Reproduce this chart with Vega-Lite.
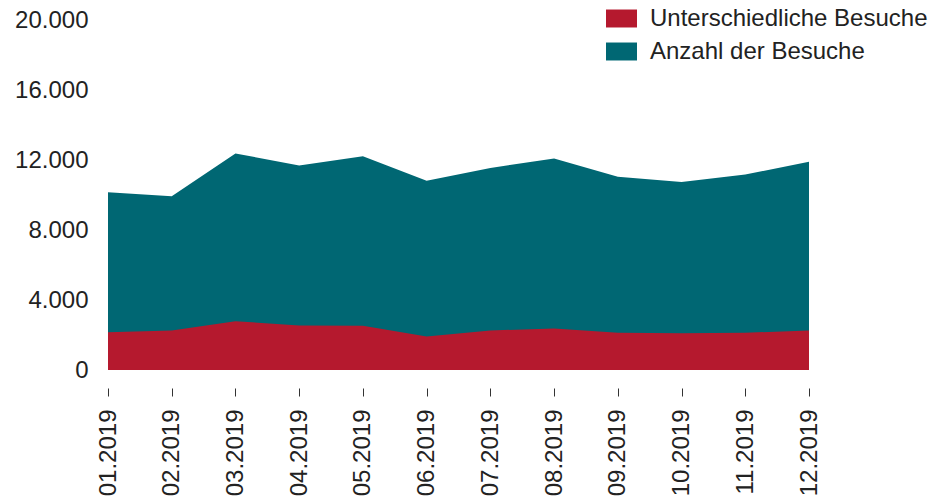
{
  "$schema": "https://vega.github.io/schema/vega-lite/v6.json",
  "width": 701,
  "height": 350,
  "autosize": {"type": "none"},
  "padding": {"left": 108, "top": 20, "right": 141, "bottom": 129},
  "background": "white",
  "config": {
    "view": {"stroke": null},
    "locale": {"number": {"decimal": ",", "thousands": ".", "grouping": [3], "currency": ["", " €"]}},
    "font": "Liberation Sans"
  },
  "data": {
    "values": [
      {"monat": "01.2019", "anzahl": 10160, "unterschiedlich": 2160},
      {"monat": "02.2019", "anzahl": 9930, "unterschiedlich": 2260},
      {"monat": "03.2019", "anzahl": 12370, "unterschiedlich": 2790},
      {"monat": "04.2019", "anzahl": 11690, "unterschiedlich": 2540},
      {"monat": "05.2019", "anzahl": 12220, "unterschiedlich": 2530},
      {"monat": "06.2019", "anzahl": 10810, "unterschiedlich": 1910},
      {"monat": "07.2019", "anzahl": 11550, "unterschiedlich": 2260},
      {"monat": "08.2019", "anzahl": 12090, "unterschiedlich": 2370},
      {"monat": "09.2019", "anzahl": 11040, "unterschiedlich": 2130},
      {"monat": "10.2019", "anzahl": 10750, "unterschiedlich": 2100},
      {"monat": "11.2019", "anzahl": 11170, "unterschiedlich": 2130},
      {"monat": "12.2019", "anzahl": 11900, "unterschiedlich": 2260}
    ]
  },
  "encoding": {
    "x": {
      "field": "monat",
      "type": "ordinal",
      "scale": {"type": "point", "padding": 0},
      "axis": {
        "title": null,
        "domain": false,
        "offset": 18,
        "tickSize": 8,
        "tickColor": "#333333",
        "tickWidth": 1,
        "labelAngle": -90,
        "labelAlign": "right",
        "labelBaseline": "middle",
        "labelPadding": 13,
        "labelFontSize": 24,
        "labelColor": "#222222",
        "labelFont": "Liberation Sans"
      }
    }
  },
  "layer": [
    {
      "mark": {"type": "area", "interpolate": "linear"},
      "encoding": {
        "y": {
          "field": "anzahl",
          "type": "quantitative",
          "stack": null,
          "scale": {"domain": [0, 20000], "nice": false},
          "axis": {
            "title": null,
            "values": [0, 4000, 8000, 12000, 16000, 20000],
            "format": ",d",
            "domain": false,
            "ticks": false,
            "grid": false,
            "labelPadding": 20,
            "labelFontSize": 24,
            "labelColor": "#222222",
            "labelFont": "Liberation Sans"
          }
        },
        "color": {
          "datum": "Anzahl der Besuche",
          "scale": {
            "domain": ["Unterschiedliche Besuche", "Anzahl der Besuche"],
            "range": ["#b5192e", "#006773"]
          },
          "legend": {
            "title": null,
            "orient": "none",
            "legendX": 498,
            "legendY": -17,
            "symbolType": "M-1,-0.58H1V0.58H-1Z",
            "symbolSize": 961,
            "symbolStrokeWidth": 0,
            "symbolOpacity": 1,
            "labelFontSize": 24,
            "labelFont": "Liberation Sans",
            "labelColor": "#222222",
            "labelOffset": 13,
            "rowPadding": 5,
            "labelLimit": 400
          }
        }
      }
    },
    {
      "mark": {"type": "area", "interpolate": "linear"},
      "encoding": {
        "y": {"field": "unterschiedlich", "type": "quantitative", "stack": null},
        "color": {"datum": "Unterschiedliche Besuche"}
      }
    }
  ],
  "resolve": {"scale": {"color": "shared"}}
}
